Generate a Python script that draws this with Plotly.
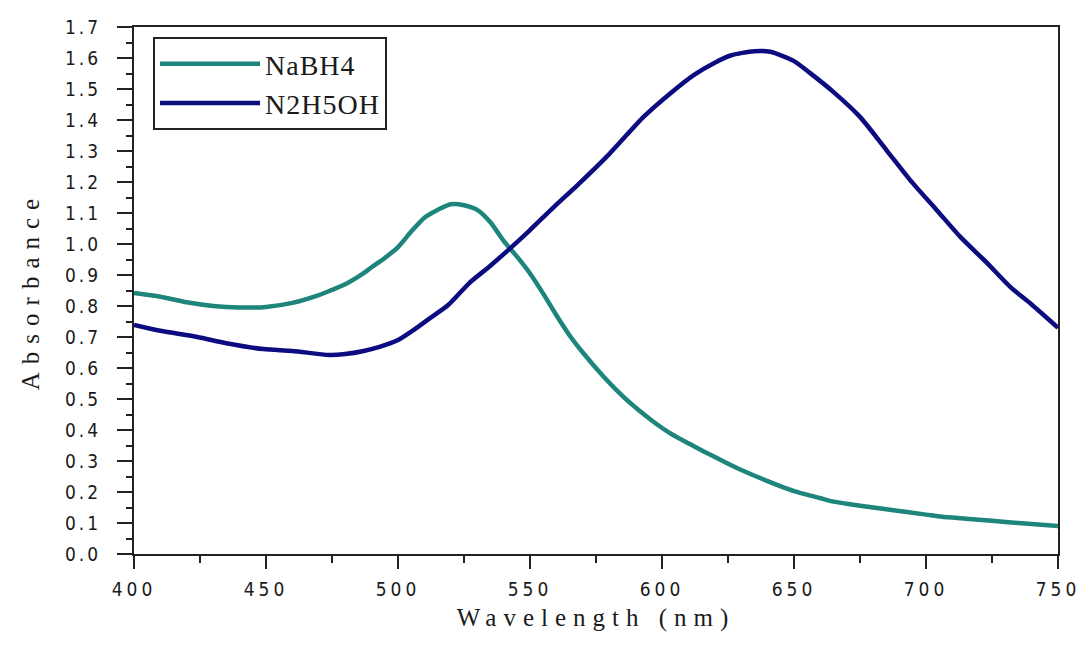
import plotly.graph_objects as go

wl_nabh4 = [400, 410, 420, 430, 440, 450, 460, 470, 475, 480, 487, 490, 495, 500, 505, 510, 515, 520, 525, 530,
            535, 540, 545, 550, 555, 560, 565, 570, 578, 585, 591, 597, 603, 610, 616, 623, 629, 640, 646, 650,
            660, 665, 670, 680, 687, 700, 706, 715, 725, 735, 750]
abs_nabh4 = [0.842, 0.83, 0.812, 0.80, 0.795, 0.797, 0.81, 0.835, 0.852, 0.87, 0.906, 0.925, 0.955, 0.99, 1.04,
             1.085, 1.11, 1.128, 1.125, 1.11, 1.07, 1.01, 0.96, 0.905, 0.84, 0.77, 0.705, 0.65, 0.571, 0.51,
             0.465, 0.425, 0.39, 0.357, 0.33, 0.30, 0.275, 0.235, 0.215, 0.203, 0.18, 0.169, 0.162, 0.15, 0.142,
             0.127, 0.12, 0.114, 0.107, 0.10, 0.09]

wl_n2h5oh = [400, 410, 424, 435, 449, 460, 474, 480, 487, 493, 500, 506, 512, 519, 527, 535, 543, 550, 559, 568,
             580, 593, 603, 612, 620, 626, 635, 641, 650, 656, 665, 675, 685, 694, 704, 713, 723, 732, 740, 750]
abs_n2h5oh = [0.739, 0.72, 0.70, 0.68, 0.661, 0.655, 0.642, 0.645, 0.655, 0.668, 0.69, 0.723, 0.76, 0.803, 0.874,
              0.93, 0.99, 1.045, 1.119, 1.19, 1.29, 1.41, 1.485, 1.545, 1.585, 1.608, 1.622, 1.62, 1.59, 1.552,
              1.49, 1.41, 1.303, 1.206, 1.11, 1.023, 0.94, 0.861, 0.805, 0.73]

x_ticks = [400, 450, 500, 550, 600, 650, 700, 750]
y_ticks = [round(i * 0.1, 1) for i in range(18)]

series_names = ["NaBH4", "N2H5OH"]
colors = ["#1d857b", "#0c0c80"]

sp = lambda s, px: f"<span style='letter-spacing:{px}px'>{s}</span>"

fig = go.Figure()
fig.add_trace(go.Scatter(x=wl_nabh4, y=abs_nabh4, mode="lines", name=sp(series_names[0], 1),
                         line=dict(color=colors[0], width=4.5, shape="spline", smoothing=0.7)))
fig.add_trace(go.Scatter(x=wl_n2h5oh, y=abs_n2h5oh, mode="lines", name=sp(series_names[1], 1),
                         line=dict(color=colors[1], width=4.5, shape="spline", smoothing=0.7)))

tickfont = dict(family="Liberation Sans Narrow, DejaVu Sans Condensed, Arial", size=19, color="#1a1a1a")
titlefont = dict(family="Liberation Serif, Times New Roman, serif", size=25, color="#1a1a1a")

fig.update_layout(
    width=1080, height=647,
    margin=dict(l=134, r=22, t=27, b=93, autoexpand=False),
    paper_bgcolor="white", plot_bgcolor="white",
    showlegend=True,
    legend=dict(x=0.0206, y=0.981, xanchor="left", yanchor="top",
                bordercolor="#222", borderwidth=2, bgcolor="white",
                font=dict(family="Liberation Serif, Times New Roman, serif", size=28, color="#1a1a1a"),
                itemwidth=100, tracegroupgap=0),
    xaxis=dict(range=[400, 750], tickvals=x_ticks, ticktext=[sp(str(v), 4) for v in x_ticks],
               ticklabeloverflow="allow", automargin=False,
               ticks="outside", ticklen=13, tickwidth=2, tickcolor="#222",
               minor=dict(dtick=25, ticks="outside", ticklen=7, tickwidth=2, tickcolor="#222"),
               showline=True, linecolor="#222", linewidth=2, mirror=True,
               showgrid=False, zeroline=False, tickfont=tickfont, ticklabelstandoff=4,
               title=dict(text=sp("Wavelength (nm)", 7), font=titlefont, standoff=10)),
    yaxis=dict(range=[0, 1.7], tickvals=y_ticks, ticktext=[sp(f"{v:.1f}", 3) for v in y_ticks],
               ticklabeloverflow="allow", automargin=False,
               ticks="outside", ticklen=15, tickwidth=2, tickcolor="#222",
               minor=dict(dtick=0.05, ticks="outside", ticklen=6, tickwidth=1.5, tickcolor="#222"),
               showline=True, linecolor="#222", linewidth=2, mirror=True,
               showgrid=False, zeroline=False, tickfont=tickfont, ticklabelstandoff=12,
               title=dict(text=sp("Absorbance", 8), font=titlefont, standoff=18)),
)

fig.write_html("out.html")
